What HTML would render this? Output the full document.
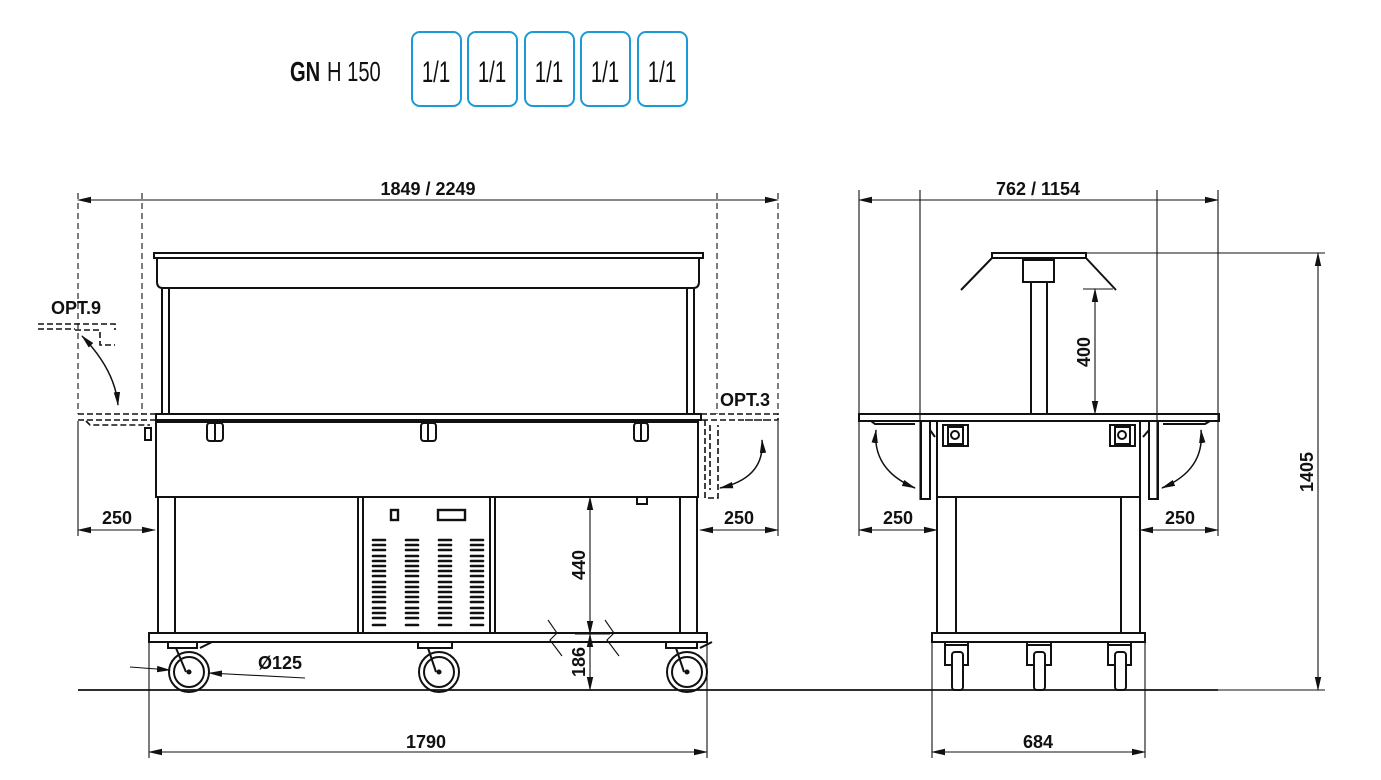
<!DOCTYPE html>
<html><head><meta charset="utf-8"><style>
html,body{margin:0;padding:0;background:#fff;}
svg{display:block}
.t{font-family:"Liberation Sans",sans-serif;font-weight:bold;font-size:18px;fill:#111}
</style></head><body>
<svg width="1381" height="780" viewBox="0 0 1381 780" xmlns="http://www.w3.org/2000/svg">
<defs>
<marker id="a" markerWidth="14" markerHeight="8" refX="13" refY="4" orient="auto-start-reverse" markerUnits="userSpaceOnUse">
<path d="M0,0.8 L14,4 L0,7.2 Z" fill="#111"/></marker>
</defs>
<!-- header -->
<g font-family="'Liberation Sans Narrow','Liberation Sans',sans-serif" fill="#111">
<text x="290" y="81" font-size="28" font-weight="bold" transform="translate(290 0) scale(0.72 1) translate(-290 0)">GN</text>
<text x="327" y="81" font-size="28" transform="translate(327 0) scale(0.72 1) translate(-327 0)">H 150</text>
</g>
<g fill="none" stroke="#1a9ad6" stroke-width="2">
<rect x="412" y="32" width="49" height="74" rx="8"/>
<rect x="468" y="32" width="49" height="74" rx="8"/>
<rect x="525" y="32" width="49" height="74" rx="8"/>
<rect x="581" y="32" width="49" height="74" rx="8"/>
<rect x="638" y="32" width="49" height="74" rx="8"/>
</g>
<g font-family="'Liberation Sans',sans-serif" font-size="30" fill="#111">
<text x="436" y="82" text-anchor="middle" transform="translate(436 0) scale(0.68 1) translate(-436 0)">1/1</text>
<text x="492" y="82" text-anchor="middle" transform="translate(492 0) scale(0.68 1) translate(-492 0)">1/1</text>
<text x="549" y="82" text-anchor="middle" transform="translate(549 0) scale(0.68 1) translate(-549 0)">1/1</text>
<text x="605" y="82" text-anchor="middle" transform="translate(605 0) scale(0.68 1) translate(-605 0)">1/1</text>
<text x="662" y="82" text-anchor="middle" transform="translate(662 0) scale(0.68 1) translate(-662 0)">1/1</text>
</g>

<g fill="none" stroke="#111" stroke-width="1.1">
<!-- LEFT VIEW dims -->
<line x1="78" y1="200" x2="778" y2="200" marker-start="url(#a)" marker-end="url(#a)"/>
<g stroke-dasharray="6,4">
<line x1="78" y1="193" x2="78" y2="414"/>
<line x1="142" y1="193" x2="142" y2="414"/>
<line x1="717" y1="193" x2="717" y2="414"/>
<line x1="778" y1="193" x2="778" y2="414"/>
</g>
<line x1="78" y1="421" x2="78" y2="536"/>
<line x1="778" y1="421" x2="778" y2="536"/>
<line x1="78" y1="530" x2="155" y2="530" marker-start="url(#a)" marker-end="url(#a)"/>
<line x1="700" y1="530" x2="778" y2="530" marker-start="url(#a)" marker-end="url(#a)"/>
<line x1="78" y1="690" x2="1218" y2="690" stroke-width="1.8"/>
<line x1="149" y1="642" x2="149" y2="758"/>
<line x1="707" y1="642" x2="707" y2="758"/>
<line x1="149" y1="752" x2="707" y2="752" marker-start="url(#a)" marker-end="url(#a)"/>
<line x1="590" y1="497" x2="590" y2="634" marker-start="url(#a)" marker-end="url(#a)"/>
<line x1="590" y1="634" x2="590" y2="690" marker-start="url(#a)" marker-end="url(#a)"/>
<line x1="575" y1="634" x2="610" y2="634"/>
<path d="M548,620 L557,633 L550,640 L562,656"/>
<path d="M605,620 L614,633 L607,640 L619,656"/>
<line x1="130" y1="667" x2="170" y2="670" marker-end="url(#a)"/>
<line x1="305" y1="678" x2="209" y2="673" marker-end="url(#a)"/>

<g stroke-width="2">
<rect x="154" y="253" width="549" height="5"/>
<path d="M157,258 L157,282 Q157,288 163,288 L693,288 Q699,288 699,282 L699,258"/>
<line x1="162" y1="288" x2="162" y2="414"/>
<line x1="169" y1="288" x2="169" y2="414"/>
<line x1="687" y1="288" x2="687" y2="414"/>
<line x1="694" y1="288" x2="694" y2="414"/>
<rect x="156" y="414" width="545" height="6"/>
<rect x="156" y="420" width="542" height="77"/>
<line x1="156" y1="422" x2="698" y2="422"/>
<rect x="158" y="497" width="17" height="136"/>
<rect x="680" y="497" width="17" height="136"/>
<rect x="358" y="497" width="137" height="136"/>
<line x1="363" y1="497" x2="363" y2="633"/>
<line x1="490" y1="497" x2="490" y2="633"/>
<rect x="149" y="633" width="558" height="9"/>
<rect x="637" y="497" width="10" height="7"/>
</g>
<g stroke-width="2">
<rect x="207" y="423" width="16" height="18" rx="3"/><line x1="215" y1="423" x2="215" y2="441"/>
<rect x="421" y="423" width="15" height="18" rx="3"/><line x1="428" y1="423" x2="428" y2="441"/>
<rect x="634" y="423" width="14" height="18" rx="3"/><line x1="641" y1="423" x2="641" y2="441"/>
<rect x="391" y="510" width="7" height="10" stroke-width="2.4"/>
<rect x="438" y="510" width="27" height="10" stroke-width="2.4"/>
<rect x="145" y="428" width="6" height="12"/>
</g>
<g stroke-width="2">
<circle cx="189" cy="672" r="20"/><circle cx="189" cy="672" r="15"/>
<circle cx="439" cy="672" r="20"/><circle cx="439" cy="672" r="15"/>
<circle cx="687" cy="672" r="20"/><circle cx="687" cy="672" r="15"/>
<path d="M168,642 L168,648 L197,648 L197,642 M176,648 L186,672 M200,648 L212,642"/>
<path d="M418,642 L418,648 L452,648 L452,642 M428,648 L436,672"/>
<path d="M666,642 L666,648 L697,648 L697,642 M676,648 L684,672 M700,648 L712,642"/>
</g>
<circle cx="189" cy="672" r="2" fill="#111"/><circle cx="439" cy="672" r="2" fill="#111"/><circle cx="687" cy="672" r="2" fill="#111"/>
<g stroke-dasharray="6,3" stroke-width="1.6">
<path d="M78,414 L156,414 M78,420 L156,420 M86,421 L90,425 L150,425"/>
<path d="M38,324 L115,324 L115,330 M38,329 L75,329 M75,330 L100,330 L100,345 L115,345"/>
<path d="M701,414 L778,414 L778,420 L701,420 M705,420 L705,498 L718,498 L718,425 M710,425 L710,490 M745,420 L765,420"/>
</g>
<path d="M82,336 Q115,370 118,405" marker-start="url(#a)" marker-end="url(#a)" stroke-width="1.5"/>
<path d="M762,440 Q765,478 720,488" marker-start="url(#a)" marker-end="url(#a)" stroke-width="1.5"/>

<!-- RIGHT VIEW -->
<line x1="859" y1="200" x2="1218" y2="200" marker-start="url(#a)" marker-end="url(#a)"/>
<line x1="859" y1="190" x2="859" y2="536"/>
<line x1="920" y1="190" x2="920" y2="500"/>
<line x1="1157" y1="190" x2="1157" y2="500"/>
<line x1="1218" y1="190" x2="1218" y2="536"/>
<line x1="859" y1="530" x2="937" y2="530" marker-start="url(#a)" marker-end="url(#a)"/>
<line x1="1140" y1="530" x2="1218" y2="530" marker-start="url(#a)" marker-end="url(#a)"/>
<line x1="932" y1="642" x2="932" y2="758"/>
<line x1="1145" y1="642" x2="1145" y2="758"/>
<line x1="932" y1="752" x2="1145" y2="752" marker-start="url(#a)" marker-end="url(#a)"/>
<line x1="1086" y1="253" x2="1325" y2="253"/>
<line x1="1218" y1="690" x2="1325" y2="690"/>
<line x1="1318" y1="253" x2="1318" y2="690" marker-start="url(#a)" marker-end="url(#a)"/>
<line x1="1095" y1="289" x2="1095" y2="414" marker-start="url(#a)" marker-end="url(#a)"/>
<line x1="1083" y1="289" x2="1113" y2="289"/>
<g stroke-width="2">
<rect x="992" y="253" width="94" height="5"/>
<line x1="992" y1="258" x2="961" y2="290"/>
<line x1="1086" y1="258" x2="1116" y2="290"/>
<rect x="1023" y="260" width="31" height="22"/>
<rect x="1031" y="282" width="16" height="132"/>
<rect x="859" y="414" width="360" height="7"/>
<path d="M871,421 L875,424 L915,424 M1163,424 L1205,424 L1210,421"/>
<rect x="937" y="421" width="203" height="76"/>
<rect x="921" y="421" width="9" height="78"/>
<rect x="1149" y="421" width="9" height="78"/>
<path d="M930,422 L930,430 L935,437 M1149,422 L1149,430 L1143,437"/>
<rect x="943" y="425" width="25" height="21"/><rect x="948" y="427" width="15" height="17"/><circle cx="955" cy="435" r="4"/>
<rect x="1110" y="425" width="25" height="21"/><rect x="1115" y="427" width="15" height="17"/><circle cx="1122" cy="435" r="4"/>
<rect x="937" y="497" width="19" height="136"/>
<rect x="1121" y="497" width="19" height="136"/>
<line x1="956" y1="497" x2="1121" y2="497"/>
<rect x="932" y="633" width="213" height="9"/>
<path d="M945,642 L945,665 L952,665 M968,642 L968,665 L963,665 M945,645 L968,645"/>
<rect x="952" y="652" width="11" height="38" rx="3"/>
<path d="M1027,642 L1027,665 L1034,665 M1051,642 L1051,665 L1045,665 M1027,645 L1051,645"/>
<rect x="1034" y="652" width="11" height="38" rx="3"/>
<path d="M1108,642 L1108,665 L1115,665 M1131,642 L1131,665 L1126,665 M1108,645 L1131,645"/>
<rect x="1115" y="652" width="11" height="38" rx="3"/>
</g>
<path d="M876,430 Q872,470 915,488" marker-start="url(#a)" marker-end="url(#a)" stroke-width="1.5"/>
<path d="M1201,430 Q1205,470 1162,488" marker-start="url(#a)" marker-end="url(#a)" stroke-width="1.5"/>
</g>

<g stroke="#111" stroke-width="2.6" stroke-linecap="round">
<path d="M373,540h12M373,545h12M373,550h12M373,556h12M373,561h12M373,566h12M373,571h12M373,576h12M373,582h12M373,587h12M373,592h12M373,597h12M373,602h12M373,608h12M373,613h12M373,618h12M373,625h12"/>
<path d="M406,540h12M406,545h12M406,550h12M406,556h12M406,561h12M406,566h12M406,571h12M406,576h12M406,582h12M406,587h12M406,592h12M406,597h12M406,602h12M406,608h12M406,613h12M406,618h12M406,625h12"/>
<path d="M439,540h12M439,545h12M439,550h12M439,556h12M439,561h12M439,566h12M439,571h12M439,576h12M439,582h12M439,587h12M439,592h12M439,597h12M439,602h12M439,608h12M439,613h12M439,618h12M439,625h12"/>
<path d="M471,540h12M471,545h12M471,550h12M471,556h12M471,561h12M471,566h12M471,571h12M471,576h12M471,582h12M471,587h12M471,592h12M471,597h12M471,602h12M471,608h12M471,613h12M471,618h12M471,625h12"/>
</g>

<text class="t" x="428" y="195" text-anchor="middle">1849 / 2249</text>
<text class="t" x="1038" y="195" text-anchor="middle">762 / 1154</text>
<text class="t" x="76" y="314" text-anchor="middle">OPT.9</text>
<text class="t" x="745" y="406" text-anchor="middle">OPT.3</text>
<text class="t" x="117" y="524" text-anchor="middle">250</text>
<text class="t" x="739" y="524" text-anchor="middle">250</text>
<text class="t" x="898" y="524" text-anchor="middle">250</text>
<text class="t" x="1180" y="524" text-anchor="middle">250</text>
<text class="t" x="280" y="669" text-anchor="middle">Ø125</text>
<text class="t" x="426" y="748" text-anchor="middle">1790</text>
<text class="t" x="1038" y="748" text-anchor="middle">684</text>
<text class="t" x="585" y="565" text-anchor="middle" transform="rotate(-90 585 565)">440</text>
<text class="t" x="585" y="662" text-anchor="middle" transform="rotate(-90 585 662)">186</text>
<text class="t" x="1090" y="352" text-anchor="middle" transform="rotate(-90 1090 352)">400</text>
<text class="t" x="1313" y="472" text-anchor="middle" transform="rotate(-90 1313 472)">1405</text>
</svg>
</body></html>
